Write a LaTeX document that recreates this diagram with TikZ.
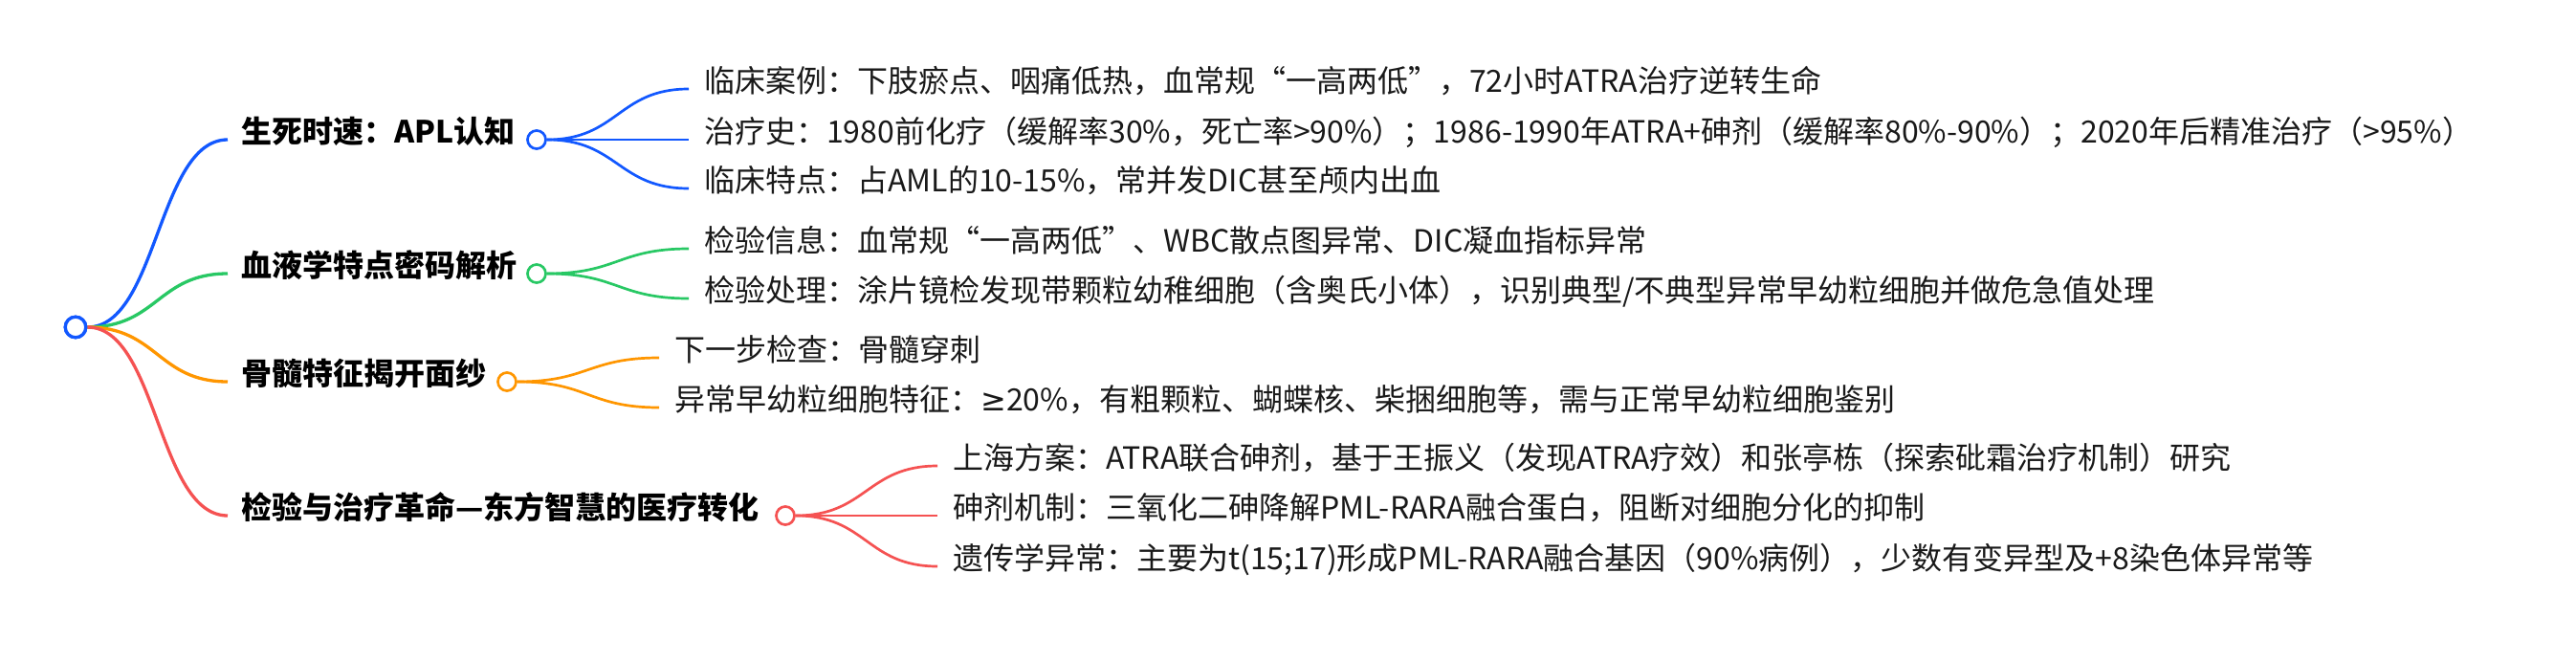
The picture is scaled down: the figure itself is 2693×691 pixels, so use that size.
\documentclass[tikz,border=0pt]{standalone}
\usepackage{fontspec}
\setmainfont{Noto Sans CJK SC}
\newfontfamily\symfnt{DejaVu Sans}
\usetikzlibrary{calc}
\definecolor{cblue}{RGB}{18,88,255}
\definecolor{cgreen}{RGB}{40,200,100}
\definecolor{corange}{RGB}{255,150,0}
\definecolor{cred}{RGB}{245,82,82}
\definecolor{ctext}{RGB}{25,25,25}
\newcommand{\mmcurve}[3]{\draw[#1] let \p1=(#2), \p2=(#3) in (\p1) .. controls ({0.5*\x1+0.5*\x2},\y1) and ({0.5*\x1+0.5*\x2},\y2) .. (\p2);}
\begin{document}
\begin{tikzpicture}[x=1pt,y=-1pt,
  rootdot/.style={circle,draw=cblue,line width=3.3pt,minimum size=21.5pt,inner sep=0pt,fill=white},
  subdot/.style={circle,draw=#1,line width=2.7pt,minimum size=19pt,inner sep=0pt,fill=white},
  title/.style={anchor=west,inner xsep=14pt,inner ysep=0pt,font=\fontsize{32}{36}\selectfont\bfseries,text=black,text height=0.84em,text depth=0.08em},
  leaf/.style={anchor=west,inner xsep=16pt,inner ysep=0pt,font=\fontsize{32}{36}\selectfont,text=ctext,text height=0.84em,text depth=0.08em},
  rootlink/.style={draw=#1,line width=3.3pt},
  leaflink/.style={draw=#1,line width=2.7pt}]
\useasboundingbox[fill=white] (0,0) rectangle (2693,691);

\node[rootdot] (root) at (79,342) {};

% titles
\node[title] (t1) at (238,146) {生死时速：APL认知};
\node[title] (t2) at (238,286) {血液学特点密码解析};
\node[title] (t3) at (238,399) {骨髓特征揭开面纱};
\node[title] (t4) at (238,539) {检验与治疗革命—东方智慧的医疗转化};

% branch dots
\node[subdot=cblue] (c1) at (561,146) {};
\node[subdot=cgreen] (c2) at (561,286) {};
\node[subdot=corange] (c3) at (530,399) {};
\node[subdot=cred] (c4) at (821,539) {};

% leaves
\node[leaf] (l11) at (720,93) {临床案例：下肢瘀点、咽痛低热，血常规“一高两低”，72小时ATRA治疗逆转生命};
\node[leaf] (l12) at (720,146) {治疗史：1980前化疗（缓解率30\%，死亡率>90\%）；1986-1990年ATRA+砷剂（缓解率80\%-90\%）；2020年后精准治疗（>95\%）};
\node[leaf] (l13) at (720,197) {临床特点：占AML的10-15\%，常并发DIC甚至颅内出血};
\node[leaf] (l21) at (720,260) {检验信息：血常规“一高两低”、WBC散点图异常、DIC凝血指标异常};
\node[leaf] (l22) at (720,312) {检验处理：涂片镜检发现带颗粒幼稚细胞（含奥氏小体），识别典型/不典型异常早幼粒细胞并做危急值处理};
\node[leaf] (l31) at (689,374) {下一步检查：骨髓穿刺};
\node[leaf] (l32) at (689,426) {异常早幼粒细胞特征：{\symfnt ≥}20\%，有粗颗粒、蝴蝶核、柴捆细胞等，需与正常早幼粒细胞鉴别};
\node[leaf] (l41) at (980,487) {上海方案：ATRA联合砷剂，基于王振义（发现ATRA疗效）和张亭栋（探索砒霜治疗机制）研究};
\node[leaf] (l42) at (980,539) {砷剂机制：三氧化二砷降解PML-RARA融合蛋白，阻断对细胞分化的抑制};
\node[leaf] (l43) at (980,592) {遗传学异常：主要为t(15;17)形成PML-RARA融合基因（90\%病例），少数有变异型及+8染色体异常等};

% root links
\mmcurve{rootlink=cblue}{root.east}{t1.west}
\mmcurve{rootlink=cgreen}{root.east}{t2.west}
\mmcurve{rootlink=corange}{root.east}{t3.west}
\mmcurve{rootlink=cred}{root.east}{t4.west}
% leaf links
\mmcurve{leaflink=cblue}{c1.east}{l11.west}
\mmcurve{leaflink=cblue}{c1.east}{l12.west}
\mmcurve{leaflink=cblue}{c1.east}{l13.west}
\mmcurve{leaflink=cgreen}{c2.east}{l21.west}
\mmcurve{leaflink=cgreen}{c2.east}{l22.west}
\mmcurve{leaflink=corange}{c3.east}{l31.west}
\mmcurve{leaflink=corange}{c3.east}{l32.west}
\mmcurve{leaflink=cred}{c4.east}{l41.west}
\mmcurve{leaflink=cred}{c4.east}{l42.west}
\mmcurve{leaflink=cred}{c4.east}{l43.west}
\node[rootdot] at (root) {};
\end{tikzpicture}
\end{document}
